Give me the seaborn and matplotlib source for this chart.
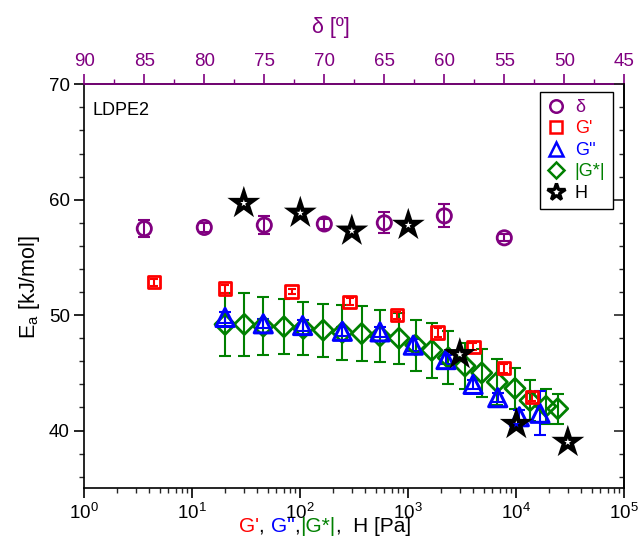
import matplotlib
matplotlib.use("Agg")
import matplotlib.pyplot as plt
import seaborn as sns
import pandas as pd
from matplotlib.lines import Line2D
from matplotlib.offsetbox import TextArea, HPacker, AnnotationBbox
from matplotlib.ticker import MultipleLocator, LogLocator, NullFormatter

sns.set_theme(style="ticks")
plt.rcParams['font.family'] = ['Liberation Sans', 'DejaVu Sans']
plt.rcParams['mathtext.fontset'] = 'custom'
plt.rcParams['mathtext.rm'] = 'Liberation Sans'
plt.rcParams['mathtext.it'] = 'Liberation Sans:italic'

# ---------------- data ----------------
delta_deg = [85, 80, 75, 70, 65, 60, 55]
delta_Ea = [57.5, 57.6, 57.8, 57.9, 58.0, 58.6, 56.7]
delta_err = [0.75, 0.4, 0.8, 0.4, 0.9, 1.0, 0.3]

Gp_x = [4.4, 20, 83, 286, 790, 1870, 4000, 7740, 13960]
Gp_Ea = [52.85, 52.3, 52.05, 51.15, 50.0, 48.5, 47.25, 45.4, 42.9]
Gp_err = [0.3, 0.35, 0.25, 0.3, 0.3, 0.4, 0.3, 0.4, 0.35]

Gpp_x = [20.1, 45.4, 105, 245, 547, 1112, 2234, 3980, 6730, 10670, 16560]
Gpp_Ea = [49.8, 49.25, 49.1, 48.6, 48.55, 47.4, 46.15, 44.0, 42.85, 41.2, 41.5]
Gpp_err = [0.5, 0.4, 0.5, 0.4, 0.4, 0.5, 0.4, 0.4, 0.4, 0.6, 1.9]

Gs_x = [20.1, 30.3, 45.4, 70.6, 106.6, 163, 245, 370, 547, 820, 1170, 1650,
        2345, 3350, 4785, 6670, 9720, 13390, 18830, 24170]
Gs_Ea = [49.2, 49.2, 49.05, 49.0, 48.85, 48.7, 48.5, 48.4, 48.2, 48.0, 47.4,
         46.95, 46.3, 45.6, 45.0, 44.2, 43.65, 42.6, 42.1, 41.9]
Gs_err = [2.7, 2.75, 2.5, 2.4, 2.3, 2.3, 2.4, 2.4, 2.25, 2.2, 2.2, 2.4, 2.3,
          2.0, 2.05, 2.0, 1.8, 1.8, 1.5, 1.3]

H_x = [30, 100, 300, 1000, 3000, 10000, 30000]
H_Ea = [59.7, 58.85, 57.3, 57.8, 46.6, 40.55, 39.0]

legend_labels = ["δ", "G'", "G''", "|G*|", "H"]

PURPLE = "#800080"
RED = "#ff0000"
BLUE = "#0000ff"
GREEN = "#008000"
BLACK = "#000000"

# ---------------- figure ----------------
fig = plt.figure(figsize=(6.44, 5.55), dpi=100)
ax = fig.add_axes([84.3 / 644, 1 - 488.3 / 555, 540 / 644, 404 / 555])
ax.set_xscale('log')

def errbars(a, x, y, e, c, lw=1.5, cap=4):
    a.errorbar(x, y, yerr=e, fmt='none', ecolor=c, elinewidth=lw,
               capsize=cap, capthick=lw, zorder=2)

# |G*| diamonds
errbars(ax, Gs_x, Gs_Ea, Gs_err, GREEN)
sns.scatterplot(x=Gs_x, y=Gs_Ea, ax=ax, marker='D', s=105, facecolor='none',
                edgecolor=GREEN, linewidth=2.0, zorder=3)
# G'' triangles
errbars(ax, Gpp_x, Gpp_Ea, Gpp_err, BLUE)
sns.scatterplot(x=Gpp_x, y=Gpp_Ea, ax=ax, marker='^', s=170, facecolor='none',
                edgecolor=BLUE, linewidth=2.2, zorder=4)
# G' squares
errbars(ax, Gp_x, Gp_Ea, Gp_err, RED, cap=3)
sns.scatterplot(x=Gp_x, y=Gp_Ea, ax=ax, marker='s', s=80, facecolor='none',
                edgecolor=RED, linewidth=2.0, zorder=5)
# H stars
sns.scatterplot(x=H_x, y=H_Ea, ax=ax, marker='*', s=230, facecolor='none',
                edgecolor=BLACK, linewidth=3.0, joinstyle='miter', zorder=6)

ax.set_xlim(1, 1e5)
ax.set_ylim(35, 70)
ax.xaxis.set_major_locator(LogLocator(base=10, numticks=10))
ax.xaxis.set_minor_locator(LogLocator(base=10, subs=range(2, 10), numticks=20))
ax.xaxis.set_minor_formatter(NullFormatter())
ax.yaxis.set_major_locator(MultipleLocator(10))
ax.yaxis.set_minor_locator(MultipleLocator(2))
ax.tick_params(which='major', direction='out', length=7, width=1.2,
               labelsize=13.5, colors=BLACK, top=False, right=False)
ax.tick_params(which='minor', direction='out', length=3.5, width=1.0,
               top=False, right=False)
for sp in ax.spines.values():
    sp.set_color(BLACK)
    sp.set_linewidth(1.2)

# top delta axis
ax2 = ax.twiny()
errbars(ax2, delta_deg, delta_Ea, delta_err, PURPLE)
sns.scatterplot(x=delta_deg, y=delta_Ea, ax=ax2, marker='o', s=105,
                facecolor='none', edgecolor=PURPLE, linewidth=2.0, zorder=3)
ax2.set_xlim(90, 45)
ax2.xaxis.set_major_locator(MultipleLocator(5))
ax2.xaxis.set_minor_locator(MultipleLocator(2.5))
ax2.tick_params(axis='x', which='major', direction='out', length=7, width=1.2,
                labelsize=13.5, colors=PURPLE, top=True, bottom=False)
ax2.tick_params(axis='x', which='minor', direction='out', length=3.5, width=1.0,
                colors=PURPLE, top=True, bottom=False)
for k in ['left', 'right', 'bottom']:
    ax2.spines[k].set_visible(False)
ax2.spines['top'].set_color(PURPLE)
ax2.spines['top'].set_linewidth(1.2)

# right mirror axis, ticks inward
ax3 = ax.twinx()
ax3.set_ylim(35, 70)
ax3.yaxis.set_major_locator(MultipleLocator(10))
ax3.yaxis.set_minor_locator(MultipleLocator(2))
ax3.tick_params(axis='y', which='major', direction='in', length=7, width=1.2,
                labelright=False, right=True, left=False)
ax3.tick_params(axis='y', which='minor', direction='in', length=3.5, width=1.0,
                labelright=False, right=True, left=False)
for k in ['left', 'top', 'bottom']:
    ax3.spines[k].set_visible(False)
ax3.spines['right'].set_color(BLACK)
ax3.spines['right'].set_linewidth(1.2)

# legend
handles = [
    Line2D([], [], ls='none', marker='o', ms=9, mfc='none', mec=PURPLE, mew=1.8),
    Line2D([], [], ls='none', marker='s', ms=8, mfc='none', mec=RED, mew=1.8),
    Line2D([], [], ls='none', marker='^', ms=10, mfc='none', mec=BLUE, mew=1.8),
    Line2D([], [], ls='none', marker='D', ms=8, mfc='none', mec=GREEN, mew=1.8),
    Line2D([], [], ls='none', marker='*', ms=13, mfc='none', mec=BLACK, mew=2.4),
]
leg = ax3.legend(handles, legend_labels, loc='upper right',
                 bbox_to_anchor=(0.9785, 0.9817), fontsize=13,
                 frameon=True, fancybox=False, framealpha=1,
                 edgecolor=BLACK, handlelength=1.0, handletextpad=0.55,
                 labelspacing=0.25, borderpad=0.4, borderaxespad=0)
leg.get_frame().set_linewidth(1.0)
for t, c in zip(leg.get_texts(), [PURPLE, RED, BLUE, GREEN, BLACK]):
    t.set_color(c)

# texts
ax.text(0.016, 0.935, "LDPE2", transform=ax.transAxes, fontsize=13,
        ha='left', va='center', color=BLACK)
fig.text(331 / 644, 1 - 27 / 555, "δ [º]", color=PURPLE, fontsize=15.5,
         ha='center', va='center')
fig.text(30 / 644, 1 - 287 / 555, "E$_{\\mathrm{a}}$ [kJ/mol]", rotation=90,
         fontsize=15.5, ha='center', va='center', color=BLACK)

parts = [("G'", RED), (", ", BLACK), ("G''", BLUE), (",", BLACK),
         ("|G*|", GREEN), (",  H [Pa]", BLACK)]
box = HPacker(children=[TextArea(s, textprops=dict(color=c, fontsize=15))
                        for s, c in parts], align='baseline', pad=0, sep=0)
ab = AnnotationBbox(box, (325 / 644, 1 - 526 / 555), xycoords='figure fraction',
                    frameon=False, box_alignment=(0.5, 0.5))
fig.add_artist(ab)

fig.savefig("out.png", dpi=100)
